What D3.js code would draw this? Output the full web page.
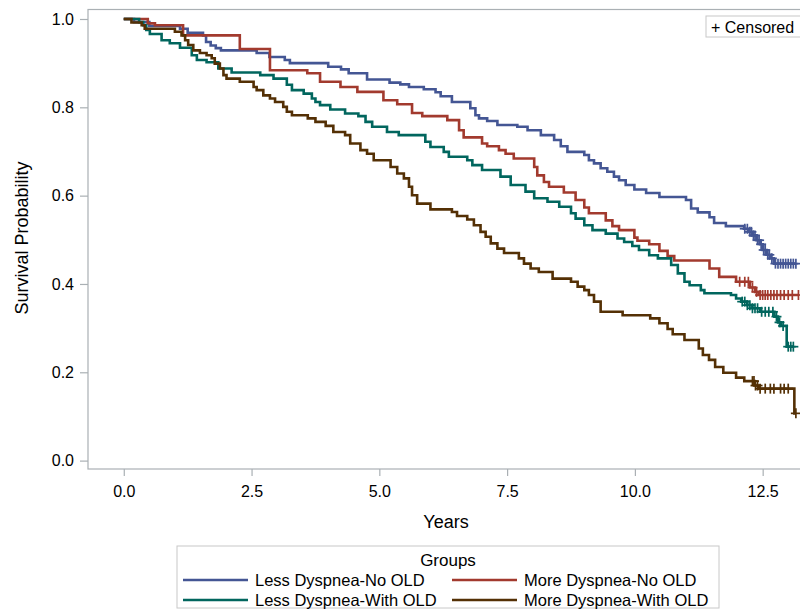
<!DOCTYPE html>
<html>
<head>
<meta charset="utf-8">
<script src="https://cdn.jsdelivr.net/npm/d3@7"></script>
<style>
  body { margin: 0; background: #fff; }
  svg text { font-family: "Liberation Sans", Arial, sans-serif; fill: #000; }
</style>
</head>
<body>
<svg id="chart" width="800" height="612"></svg>
<script>
// group names and colours
const groups = ["Less Dyspnea-No OLD", "More Dyspnea-No OLD", "Less Dyspnea-With OLD", "More Dyspnea-With OLD"];
const colors = ["#445694", "#A23A2E", "#01665E", "#543005"];

const xTicks = [0, 2.5, 5, 7.5, 10, 12.5];
const yTicks = [0, 0.2, 0.4, 0.6, 0.8, 1.0];

// [time, survival] : survival drops to this value at that time
const lessNoOld = [[0,1.0],[0.2,0.993],[0.5,0.984],[1.1,0.978],[1.25,0.969],[1.55,0.963],[1.61,0.948],[1.7,0.94],[1.8,0.934],[1.9,0.929],[2.6,0.923],[2.85,0.914],[3.15,0.907],[3.25,0.9],[4.0,0.892],[4.25,0.886],[4.4,0.877],[4.76,0.863],[5.2,0.856],[5.41,0.852],[5.58,0.846],[5.87,0.841],[6.1,0.834],[6.2,0.825],[6.42,0.812],[6.78,0.798],[6.88,0.782],[6.95,0.775],[7.11,0.769],[7.31,0.76],[7.7,0.756],[7.9,0.748],[8.16,0.737],[8.42,0.726],[8.55,0.712],[8.68,0.699],[9.01,0.692],[9.1,0.68],[9.2,0.673],[9.33,0.662],[9.46,0.654],[9.59,0.643],[9.69,0.635],[9.82,0.624],[9.99,0.614],[10.22,0.606],[10.48,0.597],[11.0,0.59],[11.1,0.571],[11.23,0.562],[11.46,0.551],[11.55,0.538],[11.78,0.531],[12.14,0.525],[12.22,0.518],[12.3,0.51],[12.38,0.499],[12.45,0.49],[12.5,0.477],[12.58,0.466],[12.65,0.458],[12.72,0.446]];
const moreNoOld = [[0,1.0],[0.47,0.99],[0.61,0.986],[1.16,0.963],[2.27,0.932],[2.86,0.884],[3.59,0.877],[3.84,0.858],[4.24,0.846],[4.57,0.835],[5.08,0.816],[5.35,0.807],[5.64,0.787],[5.84,0.78],[6.33,0.771],[6.56,0.748],[6.65,0.732],[7.01,0.718],[7.11,0.712],[7.34,0.703],[7.47,0.695],[7.63,0.684],[8.03,0.665],[8.09,0.646],[8.22,0.631],[8.32,0.62],[8.61,0.607],[8.84,0.59],[9.01,0.573],[9.1,0.56],[9.43,0.544],[9.56,0.531],[9.69,0.522],[9.99,0.505],[10.05,0.498],[10.28,0.49],[10.48,0.475],[10.64,0.463],[10.77,0.453],[11.46,0.435],[11.65,0.416],[11.98,0.405],[12.25,0.392],[12.35,0.382],[12.42,0.375]];
const lessWithOld = [[0,1.0],[0.3,0.993],[0.38,0.986],[0.44,0.975],[0.51,0.966],[0.74,0.952],[0.9,0.945],[1.1,0.935],[1.33,0.918],[1.43,0.907],[1.62,0.902],[1.85,0.888],[2.11,0.879],[2.67,0.873],[2.93,0.865],[3.19,0.851],[3.29,0.839],[3.52,0.831],[3.68,0.82],[3.75,0.812],[3.84,0.805],[4.04,0.795],[4.33,0.786],[4.59,0.78],[4.73,0.767],[4.86,0.756],[5.15,0.744],[5.38,0.737],[5.9,0.722],[6.0,0.71],[6.26,0.699],[6.36,0.688],[6.72,0.68],[6.82,0.669],[7.01,0.658],[7.37,0.643],[7.57,0.624],[7.86,0.609],[8.03,0.594],[8.29,0.586],[8.52,0.575],[8.75,0.56],[8.84,0.548],[9.01,0.533],[9.17,0.522],[9.43,0.514],[9.66,0.503],[9.79,0.495],[9.95,0.486],[10.08,0.477],[10.28,0.465],[10.45,0.458],[10.71,0.443],[10.84,0.424],[10.97,0.405],[11.07,0.397],[11.29,0.386],[11.36,0.379],[11.88,0.375],[11.98,0.367],[12.08,0.36],[12.2,0.352],[12.3,0.345],[12.45,0.337],[12.73,0.326],[12.8,0.313],[12.86,0.305],[12.97,0.258]];
const moreWithOld = [[0,1.0],[0.15,0.992],[0.35,0.986],[0.41,0.978],[1.0,0.971],[1.13,0.963],[1.2,0.952],[1.26,0.941],[1.36,0.929],[1.49,0.923],[1.62,0.918],[1.72,0.911],[1.78,0.899],[1.88,0.888],[1.95,0.873],[2.01,0.865],[2.27,0.858],[2.54,0.846],[2.6,0.839],[2.73,0.827],[2.86,0.82],[2.96,0.812],[3.12,0.801],[3.19,0.79],[3.29,0.782],[3.6,0.775],[3.75,0.767],[3.95,0.758],[4.1,0.744],[4.33,0.737],[4.43,0.718],[4.63,0.703],[4.76,0.695],[4.89,0.68],[5.22,0.665],[5.35,0.65],[5.48,0.639],[5.58,0.62],[5.64,0.601],[5.74,0.582],[6.0,0.569],[6.42,0.563],[6.52,0.554],[6.72,0.546],[6.85,0.533],[6.98,0.518],[7.08,0.507],[7.18,0.492],[7.31,0.48],[7.44,0.47],[7.73,0.458],[7.83,0.446],[7.96,0.435],[8.12,0.427],[8.39,0.412],[8.75,0.405],[8.88,0.394],[9.01,0.386],[9.1,0.375],[9.2,0.36],[9.33,0.337],[9.76,0.329],[10.3,0.322],[10.48,0.311],[10.64,0.298],[10.74,0.286],[10.97,0.273],[11.25,0.254],[11.33,0.239],[11.45,0.228],[11.57,0.212],[11.73,0.199],[11.98,0.188],[12.14,0.18],[12.34,0.17],[12.42,0.163],[13.12,0.107]];

// censored times
const lessNoOldCens = [12.15,12.2,12.25,12.28,12.32,12.35,12.4,12.43,12.47,12.52,12.55,12.6,12.63,12.68,12.75,12.8,12.85,12.9,12.95,13.0,13.05,13.1,13.15];
const moreNoOldCens = [12.05,12.15,12.22,12.3,12.38,12.45,12.5,12.55,12.6,12.66,12.72,12.78,12.85,12.92,13.0,13.08,13.2];
const lessWithOldCens = [12.1,12.15,12.2,12.25,12.3,12.35,12.4,12.48,12.55,12.62,12.7,12.77,12.83,12.9,13.0,13.05,13.1];
const moreWithOldCens = [12.3,12.33,12.36,12.4,12.45,12.55,12.65,12.72,12.85,12.92,13.0,13.15];

const steps = [lessNoOld, moreNoOld, lessWithOld, moreWithOld];
const cens = [lessNoOldCens, moreNoOldCens, lessWithOldCens, moreWithOldCens];

const svg = d3.select("#chart");
const frame = {left: 88, right: 801, top: 9.5, bottom: 469};

const x = d3.scaleLinear().domain([-0.7, 13.25]).range([frame.left, frame.right]);
const y = d3.scaleLinear().domain([-0.019, 1.0215]).range([frame.bottom, frame.top]);

const gray = "#aab0b4";

// frame
svg.append("rect")
  .attr("x", frame.left).attr("y", frame.top)
  .attr("width", frame.right - frame.left).attr("height", frame.bottom - frame.top)
  .attr("fill", "none").attr("stroke", gray).attr("stroke-width", 1.2);

// axes
const xAxis = svg.append("g")
  .attr("transform", `translate(0,${frame.bottom})`)
  .call(d3.axisBottom(x).tickValues(xTicks).tickFormat(d3.format(".1f")).tickSize(7).tickPadding(10));
const yAxis = svg.append("g")
  .attr("transform", `translate(${frame.left},0)`)
  .call(d3.axisLeft(y).tickValues(yTicks).tickFormat(d3.format(".1f")).tickSize(8).tickPadding(6));
[xAxis, yAxis].forEach(g => {
  g.select(".domain").remove();
  g.selectAll(".tick line").attr("stroke", gray).attr("stroke-width", 1.2);
  g.selectAll(".tick text").attr("font-size", 16).attr("fill", "#000")
    .style("font-family", "'Liberation Sans', Arial, sans-serif");
});

svg.append("text").attr("x", 446).attr("y", 528).attr("text-anchor", "middle")
  .attr("font-size", 18).text("Years");
svg.append("text").attr("transform", "translate(28,238) rotate(-90)").attr("text-anchor", "middle")
  .attr("font-size", 18).text("Survival Probability");

// curves
const line = d3.line().x(d => x(d[0])).y(d => y(d[1])).curve(d3.curveStepAfter);

function survAt(s, t) {
  let v = s[0][1];
  s.forEach(p => { if (p[0] <= t) v = p[1]; });
  return v;
}

steps.forEach((s, i) => {
  const end = Math.max(s[s.length - 1][0], d3.max(cens[i]));
  const pts = s.concat([[end, s[s.length - 1][1]]]);
  svg.append("path").datum(pts)
    .attr("d", line)
    .attr("fill", "none")
    .attr("stroke", colors[i])
    .attr("stroke-width", 2.6)
    .attr("stroke-linejoin", "miter");

  const g = svg.append("g").attr("stroke", colors[i]).attr("stroke-width", 1.7);
  cens[i].forEach(t => {
    const cx = x(t), cy = y(survAt(s, t));
    g.append("line").attr("x1", cx - 5).attr("x2", cx + 5).attr("y1", cy).attr("y2", cy);
    g.append("line").attr("x1", cx).attr("x2", cx).attr("y1", cy - 5).attr("y2", cy + 5);
  });
});

// censored inset legend
svg.append("rect").attr("x", 706).attr("y", 16).attr("width", 100).attr("height", 21)
  .attr("fill", "#fff").attr("stroke", "#c8c8c8");
svg.append("text").attr("x", 711).attr("y", 32.5).attr("font-size", 16).text("+ Censored");

// group legend
const leg = svg.append("g");
leg.append("rect").attr("x", 177).attr("y", 546).attr("width", 542).attr("height", 62)
  .attr("fill", "#fff").attr("stroke", "#c8c8c8");
leg.append("text").attr("x", 448).attr("y", 566).attr("text-anchor", "middle")
  .attr("font-size", 17).text("Groups");
const legPos = [[183, 580], [452, 580], [183, 600], [452, 600]];
groups.forEach((name, i) => {
  const [lx, ly] = legPos[i];
  leg.append("line").attr("x1", lx).attr("x2", lx + 65).attr("y1", ly).attr("y2", ly)
    .attr("stroke", colors[i]).attr("stroke-width", 2.6);
  leg.append("text").attr("x", lx + 72).attr("y", ly + 5.5).attr("font-size", 16.5).text(name);
});
</script>
</body>
</html>
